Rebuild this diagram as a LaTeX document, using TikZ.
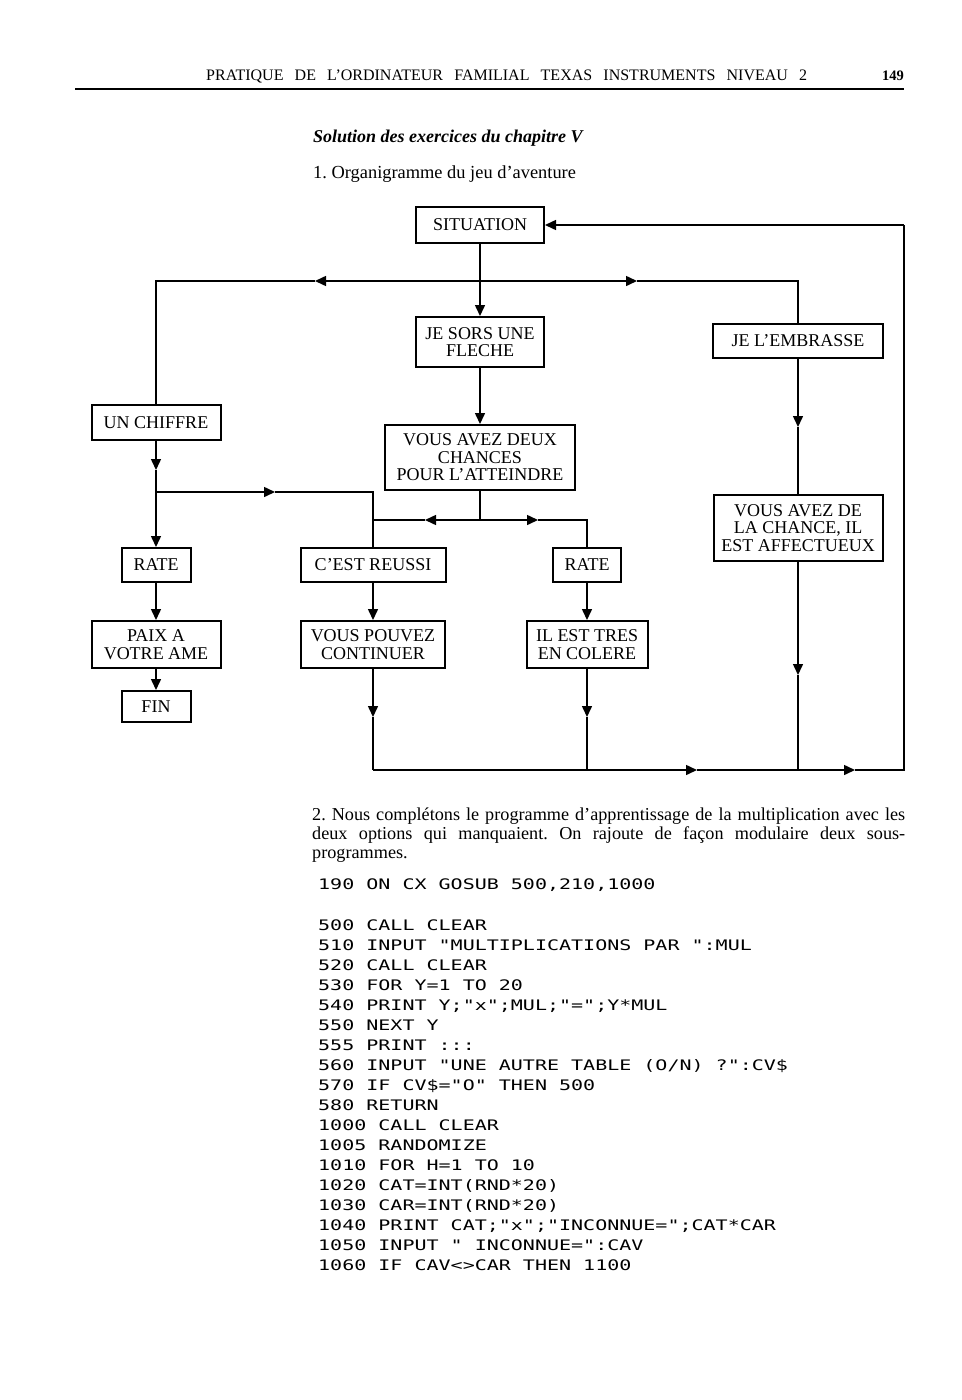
\documentclass[tikz,border=0pt]{standalone}
\usepackage{fontspec}
\setmainfont{Liberation Serif}
\newfontfamily\codefont[FakeStretch=1.38]{DejaVu Sans Mono}
\usetikzlibrary{arrows.meta}
\frenchspacing
\tikzset{
  box/.style={draw, line width=2pt, inner sep=0pt, align=center,
    font=\fontsize{18}{17.6}\selectfont},
  conn/.style={line width=1.5pt},
  arr/.style={line width=1.5pt, -{Triangle[length=11pt,width=10pt]}},
  txt/.style={anchor=base west, inner sep=0pt},
  codeline/.style={anchor=base west, inner sep=0pt, font=\codefont\fontsize{14.5}{20}\selectfont},
}
\begin{document}
\begin{tikzpicture}[x=1pt,y=-1pt]
\useasboundingbox[fill=white] (0,0) rectangle (961,1400);

% header
\node[txt, font=\fontsize{16}{18}\selectfont] (hdr) at (206,80)
  {\makebox[601pt][s]{PRATIQUE DE L’ORDINATEUR FAMILIAL TEXAS INSTRUMENTS NIVEAU 2}};
\node[anchor=base east, inner sep=0pt, font=\fontsize{14.5}{18}\selectfont\bfseries] (pg) at (904,80) {149};
\draw[line width=1.8pt] (75,89) -- (904,89);

\node[txt, font=\fontsize{18}{20}\selectfont\bfseries\itshape] (sol) at (313,142) {Solution des exercices du chapitre V};
\node[txt, font=\fontsize{18.4}{20}\selectfont] (org) at (313,178) {1. Organigramme du jeu d’aventure};

% flowchart boxes
\node[box, minimum width=128pt, minimum height=36pt] (sit) at (480,225) {SITUATION};
\node[box, minimum width=128pt, minimum height=50pt] (sors) at (480,342) {JE SORS UNE\\FLECHE};
\node[box, minimum width=190pt, minimum height=65pt] (deux) at (480,457.5) {VOUS AVEZ DEUX\\CHANCES\\POUR L’ATTEINDRE};
\node[box, minimum width=170pt, minimum height=34pt] (emb) at (798,341) {JE L’EMBRASSE};
\node[box, minimum width=129pt, minimum height=35pt] (chiffre) at (156,422.5) {UN CHIFFRE};
\node[box, minimum width=69pt, minimum height=34pt] (rateL) at (156,565) {RATE};
\node[box, minimum width=145pt, minimum height=34pt] (reussi) at (373,565) {C’EST REUSSI};
\node[box, minimum width=68pt, minimum height=34pt] (rateR) at (587,565) {RATE};
\node[box, minimum width=169pt, minimum height=66pt] (chance) at (798,528) {VOUS AVEZ DE\\LA CHANCE, IL\\EST AFFECTUEUX};
\node[box, minimum width=129pt, minimum height=47pt] (paix) at (156,644.5) {PAIX A\\VOTRE AME};
\node[box, minimum width=69pt, minimum height=31pt] (fin) at (156,706.5) {FIN};
\node[box, minimum width=144pt, minimum height=47pt] (pouvez) at (373,644.5) {VOUS POUVEZ\\CONTINUER};
\node[box, minimum width=121pt, minimum height=47pt] (colere) at (587,644.5) {IL EST TRES\\EN COLERE};

% junctions and waypoints
\coordinate (jT) at (480,281);
\coordinate (aL) at (315,281);
\coordinate (cL) at (156,281);
\coordinate (aR) at (637,281);
\coordinate (cR) at (798,281);
\coordinate (a1) at (156,470);
\coordinate (j1) at (156,492);
\coordinate (a2) at (275,492);
\coordinate (c2) at (373,492);
\coordinate (j2) at (480,520);
\coordinate (a3) at (425,520);
\coordinate (c3) at (373,520);
\coordinate (a4) at (538,520);
\coordinate (c4) at (587,520);
\coordinate (a5) at (798,427);
\coordinate (a6) at (798,675);
\coordinate (b6) at (798,770);
\coordinate (a7) at (373,717);
\coordinate (b7) at (373,770);
\coordinate (a8) at (587,717);
\coordinate (b8) at (587,770);
\coordinate (a9) at (697,770);
\coordinate (a10) at (855,770);
\coordinate (c9) at (904,770);
\coordinate (c10) at (904,225);

% connectors
\draw[arr] (sit) -- (sors);
\draw[arr] (jT) -- (aL);
\draw[conn] (aL) -- (cL) -- (chiffre.north);
\draw[arr] (jT) -- (aR);
\draw[conn] (aR) -- (cR) -- (emb.north);
\draw[arr] (sors) -- (deux);
\draw[arr] (chiffre) -- (a1);
\draw[arr] (a1) -- (rateL);
\draw[arr] (j1) -- (a2);
\draw[conn] (a2) -- (c2) -- (reussi.north);
\draw[conn] (deux) -- (j2);
\draw[arr] (j2) -- (a3);
\draw[conn] (a3) -- (c3);
\draw[arr] (j2) -- (a4);
\draw[conn] (a4) -- (c4) -- (rateR.north);
\draw[arr] (rateL) -- (paix);
\draw[arr] (paix) -- (fin);
\draw[arr] (reussi) -- (pouvez);
\draw[arr] (rateR) -- (colere);
\draw[arr] (emb) -- (a5);
\draw[conn] (a5) -- (chance.north);
\draw[arr] (chance) -- (a6);
\draw[conn] (a6) -- (b6);
\draw[arr] (pouvez) -- (a7);
\draw[conn] (a7) -- (b7);
\draw[arr] (colere) -- (a8);
\draw[conn] (a8) -- (b8);
\draw[arr] (b7) -- (a9);
\draw[arr] (a9) -- (a10);
\draw[conn] (a10) -- (c9) -- (c10);
\draw[arr] (c10) -- (sit.east);

% paragraph
\node[txt, font=\fontsize{18.2}{19}\selectfont] (p1) at (312,820)
  {\makebox[593pt][s]{2. Nous complétons le programme d’apprentissage de la multiplication avec les}};
\node[txt, font=\fontsize{18.2}{19}\selectfont] (p2) at (312,839)
  {\makebox[593pt][s]{deux options qui manquaient. On rajoute de façon modulaire deux sous-}};
\node[txt, font=\fontsize{18.2}{19}\selectfont] (p3) at (312,858) {programmes.};

% code
\node[codeline] (l190) at (318,889) {190 ON CX GOSUB 500,210,1000};
\node[codeline] (l500) at (318,930) {500 CALL CLEAR};
\node[codeline] (l510) at (318,950) {510 INPUT "MULTIPLICATIONS PAR ":MUL};
\node[codeline] (l520) at (318,970) {520 CALL CLEAR};
\node[codeline] (l530) at (318,990) {530 FOR Y=1 TO 20};
\node[codeline] (l540) at (318,1010) {540 PRINT Y;"x";MUL;"=";Y*MUL};
\node[codeline] (l550) at (318,1030) {550 NEXT Y};
\node[codeline] (l555) at (318,1050) {555 PRINT :::};
\node[codeline] (l560) at (318,1070) {560 INPUT "UNE AUTRE TABLE (O/N) ?":CV\$};
\node[codeline] (l570) at (318,1090) {570 IF CV\$="O" THEN 500};
\node[codeline] (l580) at (318,1110) {580 RETURN};
\node[codeline] (l1000) at (318,1130) {1000 CALL CLEAR};
\node[codeline] (l1005) at (318,1150) {1005 RANDOMIZE};
\node[codeline] (l1010) at (318,1170) {1010 FOR H=1 TO 10};
\node[codeline] (l1020) at (318,1190) {1020 CAT=INT(RND*20)};
\node[codeline] (l1030) at (318,1210) {1030 CAR=INT(RND*20)};
\node[codeline] (l1040) at (318,1230) {1040 PRINT CAT;"x";"INCONNUE=";CAT*CAR};
\node[codeline] (l1050) at (318,1250) {1050 INPUT " INCONNUE=":CAV};
\node[codeline] (l1060) at (318,1270) {1060 IF CAV<>CAR THEN 1100};
\end{tikzpicture}
\end{document}
